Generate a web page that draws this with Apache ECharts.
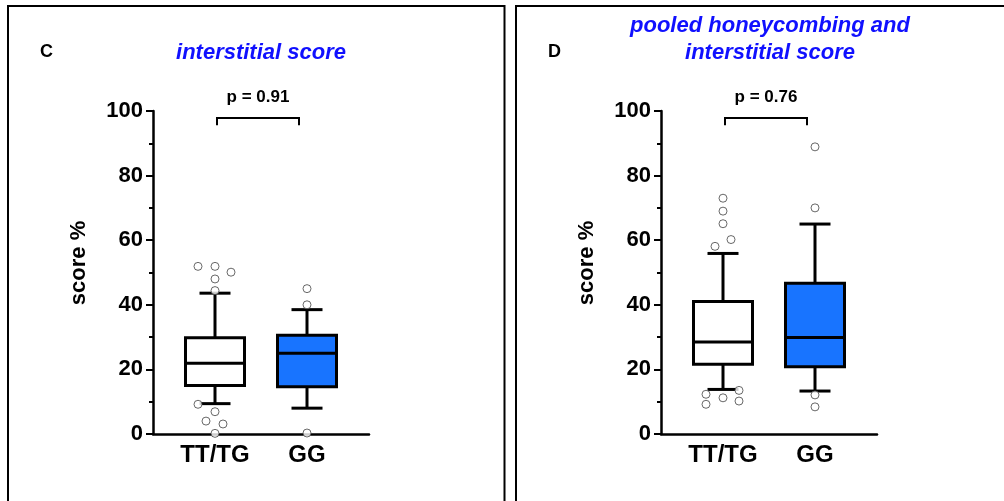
<!DOCTYPE html>
<html><head><meta charset="utf-8">
<script src="https://cdn.jsdelivr.net/npm/echarts@6/dist/echarts.min.js"></script>
<style>html,body{margin:0;padding:0;background:#fff}#c{width:1004px;height:501px}</style>
</head><body><div id="c"></div>
<script>
// ---------- data ----------
const categories = ['TT/TG', 'GG'];
const yMin = 0, yMax = 100, yStep = 20;
// [lower whisker, Q1, median, Q3, upper whisker]
const boxC_TT = [9.4, 15.0, 21.9, 29.8, 43.6];
const boxC_GG = [8.0, 14.6, 25.0, 30.6, 38.5];
const boxD_TT = [13.8, 21.6, 28.5, 41.0, 55.9];
const boxD_GG = [13.3, 20.8, 29.9, 46.7, 65.0];
// outliers (values) and their horizontal jitter (px)
const outC_TT = [51.9, 51.9, 50.1, 48.0, 44.4, 9.2, 6.9, 4.0, 3.1, 0.2];
const jitC_TT = [-17, 0, 16, 0, 0, -17, 0, -9, 8, 0];
const outC_GG = [45.0, 40.0, 0.3];
const jitC_GG = [0, 0, 0];
const outD_TT = [73.0, 69.0, 65.1, 60.2, 58.1, 12.3, 9.2, 11.2, 13.5, 10.2];
const jitD_TT = [0, 0, 0, 8, -8, -17, -17, 0, 16, 16];
const outD_GG = [88.9, 70.0, 12.1, 8.4];
const jitD_GG = [0, 0, 0, 0];
const pC = 'p = 0.91';
const pD = 'p = 0.76';
const bracketLevel = 97.8;
const titleC = 'interstitial score';
const titleD = 'pooled honeycombing and\ninterstitial score';
const yName = 'score %';

// ---------- styles ----------
const FONT = 'Liberation Sans, Arial, sans-serif';
const fills = ['#ffffff', '#1874ff'];
const BLUE = '#1010ff';

function boxRender(params, api) {
  const c = api.value(0);
  const pt = i => api.coord([c, api.value(i)]);
  const x = pt(1)[0];
  const yLo = pt(1)[1], yQ1 = pt(2)[1], yMed = pt(3)[1], yQ3 = pt(4)[1], yHi = pt(5)[1];
  const bw = 59, cw = 31;
  const ls = {stroke: '#000', lineWidth: 3};
  return {type: 'group', children: [
    {type: 'line', shape: {x1: x, y1: yQ3, x2: x, y2: yHi}, style: ls},
    {type: 'line', shape: {x1: x - cw / 2, y1: yHi, x2: x + cw / 2, y2: yHi}, style: ls},
    {type: 'line', shape: {x1: x, y1: yQ1, x2: x, y2: yLo}, style: ls},
    {type: 'line', shape: {x1: x - cw / 2, y1: yLo, x2: x + cw / 2, y2: yLo}, style: ls},
    {type: 'rect', shape: {x: x - bw / 2, y: yQ3, width: bw, height: yQ1 - yQ3},
      style: {fill: fills[params.dataIndex], stroke: '#000', lineWidth: 3}},
    {type: 'line', shape: {x1: x - bw / 2, y1: yMed, x2: x + bw / 2, y2: yMed}, style: ls}
  ]};
}

function bracketRender(params, api) {
  const L = api.value(2);
  const a = api.coord([api.value(0), L]);
  const b = api.coord([api.value(1), L]);
  const legY = api.coord([api.value(0), L - 2.2])[1];
  const x0 = a[0] + 2, x1 = b[0] - 8, y = a[1];
  return {type: 'group', children: [
    {type: 'polyline', shape: {points: [[x0, legY], [x0, y], [x1, y], [x1, legY]]},
      style: {stroke: '#000', lineWidth: 2, fill: null}},
    {type: 'text', x: (x0 + x1) / 2, y: y - 21,
      style: {text: params.seriesName === 'pC' ? pC : pD, fill: '#000', font: 'bold 17px ' + FONT,
        align: 'center', verticalAlign: 'middle'}}
  ]};
}

function outlierData(cat, vals, jit) {
  return vals.map((v, i) => ({value: [cat, v], symbolOffset: [jit[i], 0]}));
}

function panelAxes(plotGrid, frameGrid) {
  const xs = [
    {gridIndex: plotGrid, type: 'category', data: categories,
      axisLine: {show: false},
      axisTick: {alignWithLabel: true, length: 6, lineStyle: {color: '#000', width: 2.5}},
      axisLabel: {interval: 0, color: '#000', fontSize: 24, fontWeight: 'bold', fontFamily: FONT, margin: 9},
      splitLine: {show: false}},
    {gridIndex: frameGrid, type: 'value', min: 0, max: 1,
      axisLine: {show: true, lineStyle: {color: '#000', width: 2.5}},
      axisTick: {show: false}, axisLabel: {show: false}, splitLine: {show: false}}
  ];
  const ys = [
    {gridIndex: plotGrid, type: 'value', min: yMin, max: yMax, show: false},
    {gridIndex: frameGrid, type: 'value', min: yMin, max: yMax, interval: yStep,
      name: yName, nameLocation: 'middle', nameGap: 63,
      nameTextStyle: {color: '#000', fontSize: 22, fontWeight: 'bold', fontFamily: FONT, padding: [0, 0, 0, 19]},
      axisLine: {show: true, lineStyle: {color: '#000', width: 2.5}},
      axisTick: {show: true, length: 7, lineStyle: {color: '#000', width: 2}},
      minorTick: {show: true, splitNumber: 2, length: 4, lineStyle: {color: '#000', width: 2}},
      axisLabel: {color: '#000', fontSize: 22, fontWeight: 'bold', fontFamily: FONT, margin: 10},
      splitLine: {show: false}, minorSplitLine: {show: false}}
  ];
  return {xs, ys};
}

const A = panelAxes(0, 1);
const B = panelAxes(2, 3);

const scatterStyle = {symbol: 'circle', symbolSize: 8,
  itemStyle: {color: '#fff', borderColor: '#444', borderWidth: 1}, z: 5};

const option = {
  animation: false,
  backgroundColor: '#fff',
  textStyle: {fontFamily: FONT},
  graphic: [
    {type: 'rect', shape: {x: 8, y: 6, width: 496.5, height: 520}, style: {fill: null, stroke: '#000', lineWidth: 2}},
    {type: 'rect', shape: {x: 516, y: 6, width: 500, height: 520}, style: {fill: null, stroke: '#000', lineWidth: 2}}
  ],
  title: [
    {text: 'C', left: 40, top: 43, padding: 0, textStyle: {fontSize: 18, fontWeight: 'bold', color: '#000', fontFamily: FONT}},
    {text: 'D', left: 548, top: 43, padding: 0, textStyle: {fontSize: 18, fontWeight: 'bold', color: '#000', fontFamily: FONT}},
    {text: titleC, left: 261, top: 39, padding: 0, textAlign: 'center',
      textStyle: {fontSize: 22, fontWeight: 'bold', fontStyle: 'italic', color: BLUE, fontFamily: FONT, lineHeight: 27}},
    {text: titleD, left: 770, top: 12, padding: 0, textAlign: 'center',
      textStyle: {fontSize: 22, fontWeight: 'bold', fontStyle: 'italic', color: BLUE, fontFamily: FONT, lineHeight: 27}}
  ],
  grid: [
    {left: 169, top: 111, width: 184, height: 323, outerBoundsMode: 'none'},
    {left: 153, top: 111, width: 216, height: 323, outerBoundsMode: 'none'},
    {left: 677, top: 111, width: 184, height: 323, outerBoundsMode: 'none'},
    {left: 661, top: 111, width: 216, height: 323, outerBoundsMode: 'none'}
  ],
  xAxis: [...A.xs, ...B.xs],
  yAxis: [...A.ys, ...B.ys],
  series: [
    {type: 'custom', xAxisIndex: 0, yAxisIndex: 0, renderItem: boxRender, clip: false,
      data: [[0, ...boxC_TT], [1, ...boxC_GG]]},
    {type: 'custom', xAxisIndex: 2, yAxisIndex: 2, renderItem: boxRender, clip: false,
      data: [[0, ...boxD_TT], [1, ...boxD_GG]]},
    Object.assign({type: 'scatter', xAxisIndex: 0, yAxisIndex: 0,
      data: [...outlierData(0, outC_TT, jitC_TT), ...outlierData(1, outC_GG, jitC_GG)]}, scatterStyle),
    Object.assign({type: 'scatter', xAxisIndex: 2, yAxisIndex: 2,
      data: [...outlierData(0, outD_TT, jitD_TT), ...outlierData(1, outD_GG, jitD_GG)]}, scatterStyle),
    {type: 'custom', name: 'pC', xAxisIndex: 0, yAxisIndex: 0, renderItem: bracketRender, clip: false,
      data: [[0, 1, bracketLevel]]},
    {type: 'custom', name: 'pD', xAxisIndex: 2, yAxisIndex: 2, renderItem: bracketRender, clip: false,
      data: [[0, 1, bracketLevel]]}
  ]
};

const chart = echarts.init(document.getElementById('c'), null, {renderer: 'canvas'});
chart.setOption(option);
</script>
</body></html>
